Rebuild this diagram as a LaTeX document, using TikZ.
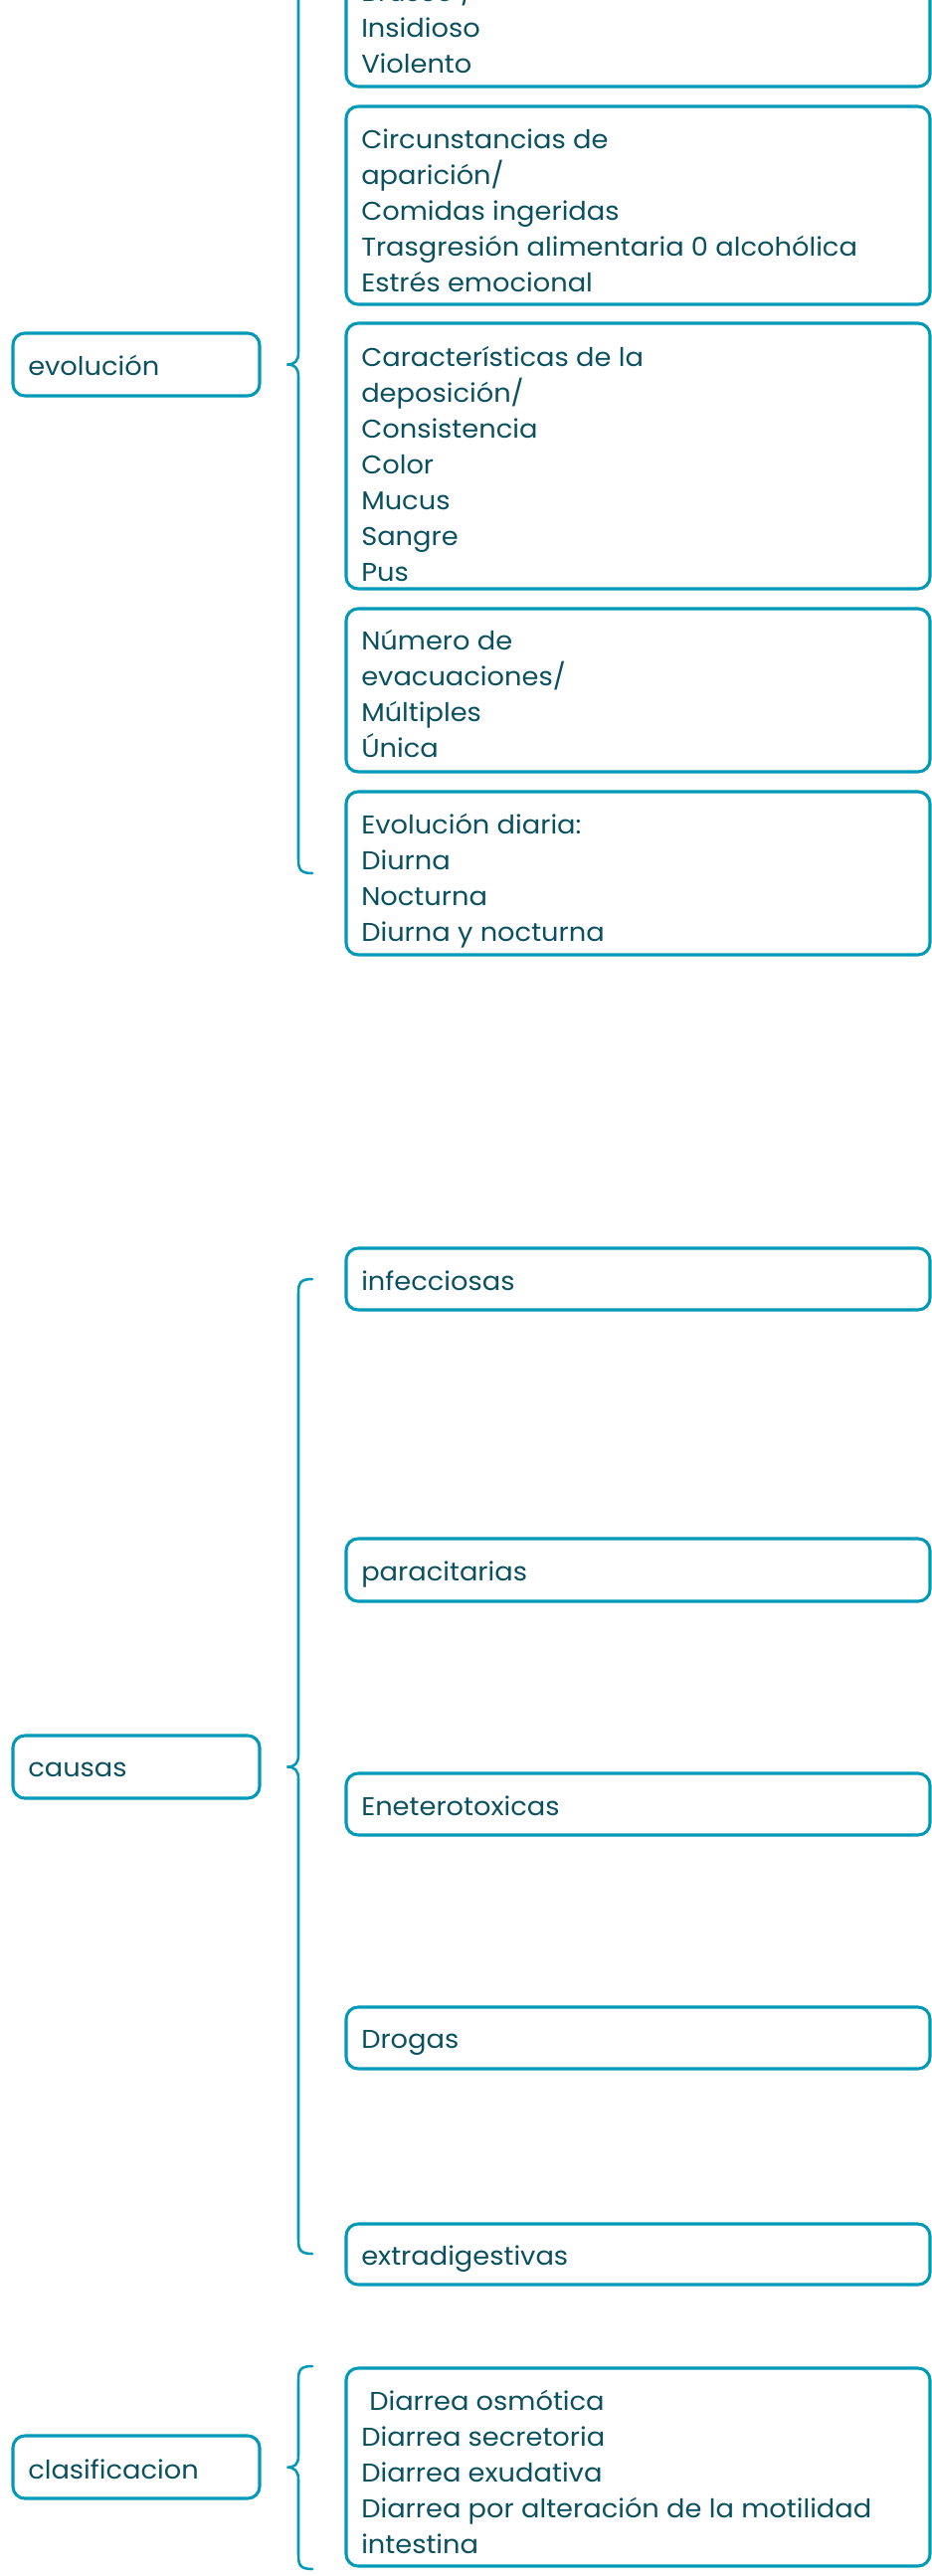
\documentclass[tikz,border=0pt]{standalone}
\usepackage{fontspec}
\setmainfont{Poppins}[FakeStretch=1.055]
\usetikzlibrary{calc}
\definecolor{bordc}{RGB}{0,153,184}
\definecolor{txtc}{RGB}{10,80,95}
\newcommand{\bxfont}{\fontsize{19.4pt}{27pt}\selectfont}
\tikzset{
  boxnode/.style={draw=bordc, line width=2.3pt, rounded corners=9pt, fill=none, inner sep=0pt},
  rbox/.style={boxnode, minimum width=440.25pt},
  lbox/.style={boxnode, minimum width=186pt},
  txtnode/.style={anchor=base west, inner sep=0pt, text=txtc, font=\bxfont},
  brc/.style={draw=bordc, line width=1.9pt, line cap=round}
}
\newcommand{\lines}[1]{\parbox[t]{440pt}{#1}}
\begin{document}
\begin{tikzpicture}[x=0.75pt,y=-0.75pt]
\useasboundingbox (0,0) rectangle (937,2590);
% right boxes (center x = 641.5)
\node[rbox, minimum height=95.25pt] (b1) at (641.5,23.5) {};
\node[rbox, minimum height=149.25pt] (b2) at (641.5,206.5) {};
\node[rbox, minimum height=200.25pt] (b3) at (641.5,458.5) {};
\node[rbox, minimum height=123pt] (b4) at (641.5,694) {};
\node[rbox, minimum height=123pt] (b5) at (641.5,878) {};
\node[rbox, minimum height=46.5pt] (b6) at (641.5,1286) {};
\node[rbox, minimum height=47.25pt] (b7) at (641.5,1578.5) {};
\node[rbox, minimum height=46.5pt] (b8) at (641.5,1814) {};
\node[rbox, minimum height=46.5pt] (b9) at (641.5,2049) {};
\node[rbox, minimum height=45.75pt] (b10) at (641.5,2266.5) {};
\node[rbox, minimum height=149.25pt] (b11) at (641.5,2480.5) {};
% left boxes
\node[lbox, minimum height=47.25pt] (evol) at (137,366.5) {};
\node[lbox, minimum height=47.25pt] (caus) at (137,1776.5) {};
\node[lbox, minimum height=47.25pt] (clas) at (137,2480.5) {};
% texts
\node[txtnode] (t1) at (363,2) {\lines{Brusco /\\Insidioso\\Violento}};
\node[txtnode] (t2) at (363,150) {\lines{Circunstancias de\\aparición/\\Comidas ingeridas\\Trasgresión alimentaria 0 alcohólica\\Estrés emocional}};
\node[txtnode] (t3) at (363,368) {\lines{Características de la\\deposición/\\Consistencia\\Color\\Mucus\\Sangre\\Pus}};
\node[txtnode] (t4) at (363,653) {\lines{Número de\\evacuaciones/\\Múltiples\\Única}};
\node[txtnode] (t5) at (363,838) {\lines{Evolución diaria:\\Diurna\\Nocturna\\Diurna y nocturna}};
\node[txtnode] (t6) at (363,1297) {infecciosas};
\node[txtnode] (t7) at (363,1589) {paracitarias};
\node[txtnode] (t8) at (363,1825) {Eneterotoxicas};
\node[txtnode] (t9) at (363,2059) {Drogas};
\node[txtnode] (t10) at (363,2277) {extradigestivas};
\node[txtnode] (t11) at (363,2423) {\lines{\hspace*{6pt}Diarrea osmótica\\Diarrea secretoria\\Diarrea exudativa\\Diarrea por alteración de la motilidad\\intestina}};
\node[txtnode] (te) at (28,377) {evolución};
\node[txtnode] (tc) at (28,1786) {causas};
\node[txtnode] (tl) at (28,2492) {clasificacion};
% brace tips
\coordinate (p1) at ($(evol.east)+(26,0)$);
\coordinate (p2) at ($(caus.east)+(26,0)$);
\coordinate (p3) at ($(clas.east)+(26,0)$);
% braces
\draw[brc] (314,-140) .. controls (302,-140) and (300,-136) .. (300,-126) -- (300,354.5) .. controls (300,363.5) and (296,366.5) .. (p1) .. controls (296,366.5) and (300,369.5) .. (300,378.5) -- (300,864) .. controls (300,874) and (302,878) .. (314,878);
\draw[brc] (314,1286) .. controls (302,1286) and (300,1290) .. (300,1300) -- (300,1764.5) .. controls (300,1773.5) and (296,1776.5) .. (p2) .. controls (296,1776.5) and (300,1779.5) .. (300,1788.5) -- (300,2252) .. controls (300,2262) and (302,2266) .. (314,2266);
\draw[brc] (314,2379) .. controls (302,2379) and (300,2383) .. (300,2393) -- (300,2469) .. controls (300,2478) and (296,2481) .. (p3) .. controls (296,2481) and (300,2484) .. (300,2493) -- (300,2569) .. controls (300,2579) and (302,2583) .. (314,2583);
\end{tikzpicture}
\end{document}
